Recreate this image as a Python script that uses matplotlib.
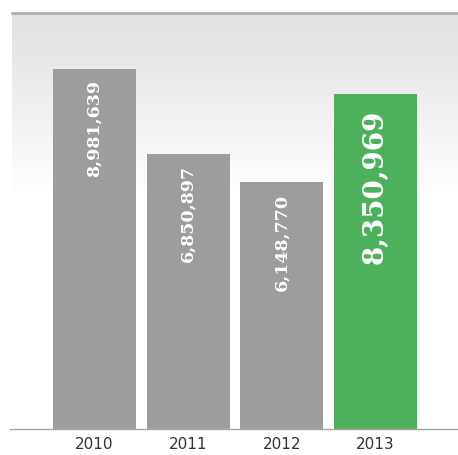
import numpy as np
import matplotlib.pyplot as plt

# --- datos ---
anios = ['2010', '2011', '2012', '2013']
valores = [8981639, 6850897, 6148770, 8350969]
colores = ['#9d9d9c', '#9d9d9c', '#9d9d9c', '#4db15c']

fig = plt.figure(figsize=(4.58, 4.55), dpi=100)
ax = fig.add_axes([10 / 458, 26 / 455, 448 / 458, 416 / 455])

# fondo degradado (gris arriba -> blanco)
grad = np.linspace(1.0, 0.0, 256).reshape(-1, 1)
ax.imshow(grad, cmap=plt.matplotlib.colors.LinearSegmentedColormap.from_list(
    'g', ['#ffffff', '#e0e0e0']), aspect='auto', extent=(2 / 448, 1, 0.56, 1),
    transform=ax.transAxes, zorder=0, interpolation='bicubic')

x = np.arange(len(anios))
barras = ax.bar(x, valores, width=0.886, color=colores, zorder=2)

ax.set_xlim(-0.90, 3.88)
ax.set_ylim(0, 10.37e6)

# etiquetas de valor dentro de las barras
for i, (xi, v) in enumerate(zip(x, valores)):
    grande = i == len(valores) - 1
    ax.annotate(f'{v:,}', (xi, v), xytext=(0, -11 if grande else -8),
                textcoords='offset points', rotation=90, ha='center', va='top',
                color='white', fontweight='bold', family='DejaVu Serif',
                fontsize=20 if grande else 12.5, zorder=3)

for s in ['left', 'right', 'top']:
    ax.spines[s].set_visible(False)
ax.spines['bottom'].set_color('#a5a5a5')
ax.spines['bottom'].set_linewidth(1)
ax.plot([2 / 448, 1], [1, 1], transform=ax.transAxes, color='#a8a8a8',
        lw=1.8, clip_on=False, zorder=4)

ax.set_yticks([])
ax.set_xticks(x)
ax.set_xticklabels(anios, fontsize=11, color='#333333')
ax.tick_params(axis='x', length=0, pad=6)

fig.savefig('out.png', dpi=100)
